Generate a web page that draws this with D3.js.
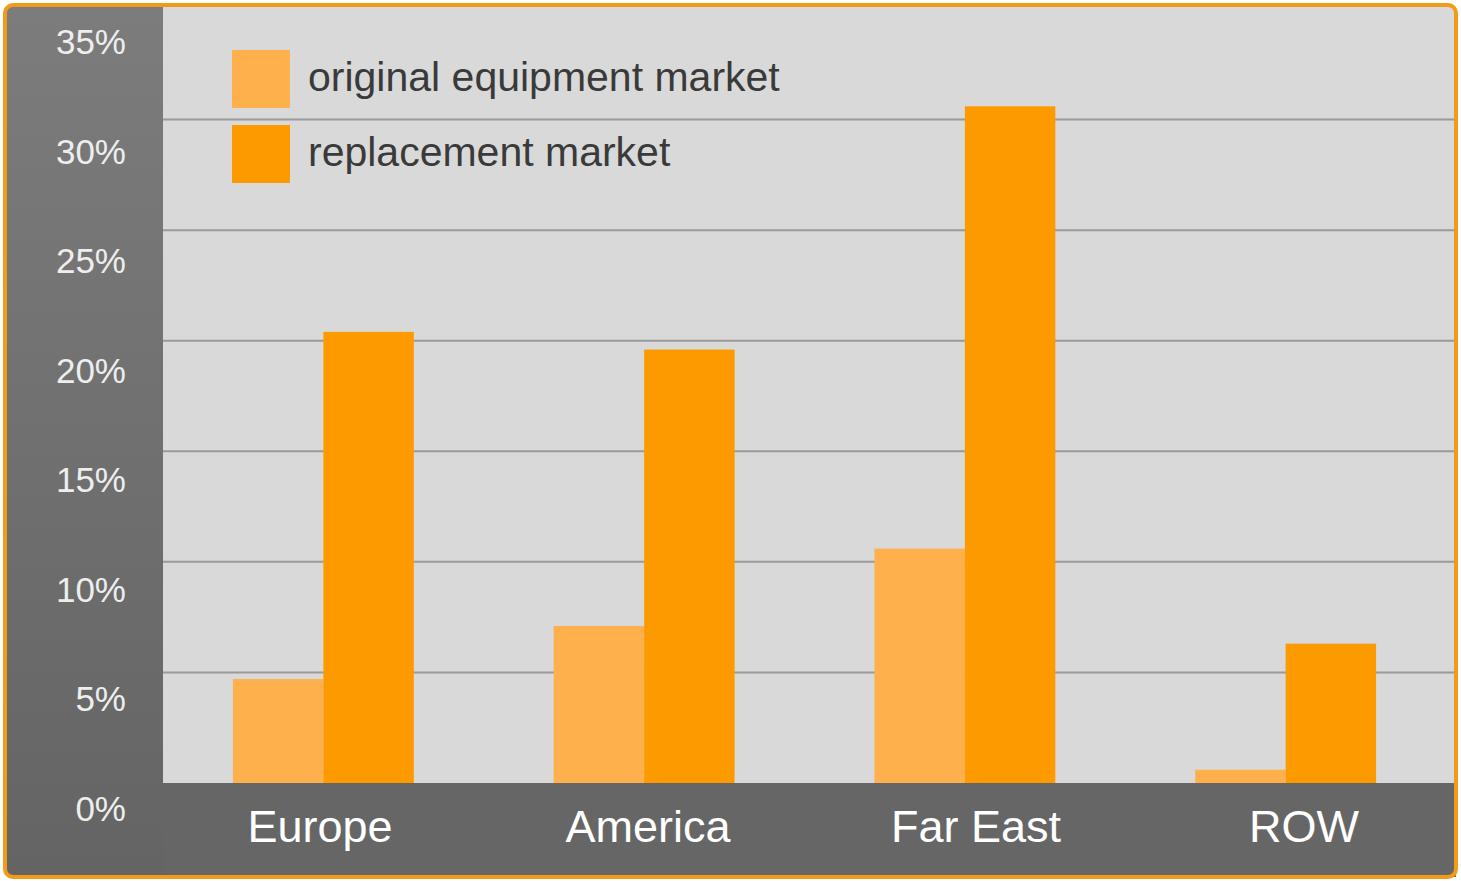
<!DOCTYPE html>
<html><head><meta charset="utf-8">
<script src="https://cdn.jsdelivr.net/npm/d3@7"></script>
<style>html,body{margin:0;padding:0;background:#fff;}svg{display:block;}</style>
</head><body><svg id="c" width="1461" height="881"></svg>
<script>
const categories = ["Europe", "America", "Far East", "ROW"];
const seriesNames = ["original equipment market", "replacement market"];
const originalEquipment = [4.7, 7.1, 10.6, 0.6];
const replacement = [20.4, 19.6, 30.6, 6.3];
const yTicks = [0, 5, 10, 15, 20, 25, 30, 35];
const yTickLabels = ["0%", "5%", "10%", "15%", "20%", "25%", "30%", "35%"];
const colors = ["#fdb04c", "#fd9a00"];

const svg = d3.select("#c");
const W = 1461, H = 881;
const plot = {x0: 163, x1: 1456, y0: 9, y1: 783};

const defs = svg.append("defs");
const g1 = defs.append("linearGradient").attr("id", "lp").attr("x1", 0).attr("y1", 0).attr("x2", 0).attr("y2", 1);
g1.append("stop").attr("offset", "0%").attr("stop-color", "#7c7c7c");
g1.append("stop").attr("offset", "100%").attr("stop-color", "#646464");

// frame background
svg.append("rect").attr("x", 5).attr("y", 5).attr("width", W - 10).attr("height", H - 9).attr("rx", 8)
  .attr("fill", "#666");
svg.append("rect").attr("x", 7).attr("y", 7).attr("width", plot.x0 - 7).attr("height", H - 12).attr("fill", "url(#lp)");
svg.append("rect").attr("x", plot.x0).attr("y", plot.y0 - 2).attr("width", plot.x1 - plot.x0).attr("height", plot.y1 - plot.y0 + 2).attr("fill", "#d9d9d9");
svg.append("rect").attr("x", plot.x0).attr("y", plot.y1).attr("width", plot.x1 - plot.x0).attr("height", H - 4 - plot.y1).attr("fill", "#666");

const y = d3.scaleLinear().domain([0, 35]).range([plot.y1, plot.y0]);
const yLabel = d3.scaleLinear().domain([0, 35]).range([821, 54]);
const x0 = d3.scaleBand().domain(categories).range([plot.x0, 1446]).paddingInner(0.436).paddingOuter(0.218);
const x1 = d3.scaleBand().domain(seriesNames).range([0, x0.bandwidth()]);
const xLabel = d3.scalePoint().domain(categories).range([320, 1304]);

// gridlines
svg.append("g").selectAll("line").data(yTicks.filter(t => t > 0 && t < 35)).join("line")
  .attr("x1", plot.x0).attr("x2", plot.x1)
  .attr("y1", d => y(d)).attr("y2", d => y(d))
  .attr("stroke", "#9a9a9a").attr("stroke-width", 2);

// y tick labels
svg.append("g").selectAll("text").data(yTicks).join("text")
  .attr("x", 126).attr("y", d => yLabel(d))
  .attr("text-anchor", "end")
  .attr("font-family", "'Liberation Sans', Arial, sans-serif")
  .attr("font-size", 35).attr("fill", "#eeeeee")
  .text((d, i) => yTickLabels[i]);

// bars
const groups = svg.append("g").selectAll("g").data(categories).join("g")
  .attr("transform", d => `translate(${x0(d)},0)`);
groups.selectAll("rect").data((d, i) => [
    {s: seriesNames[0], v: originalEquipment[i], c: colors[0]},
    {s: seriesNames[1], v: replacement[i], c: colors[1]}])
  .join("rect")
  .attr("x", d => x1(d.s)).attr("width", x1.bandwidth())
  .attr("y", d => y(d.v)).attr("height", d => y(0) - y(d.v))
  .attr("fill", d => d.c);

// category labels
svg.append("g").selectAll("text").data(categories).join("text")
  .attr("x", d => xLabel(d)).attr("y", 842)
  .attr("text-anchor", "middle")
  .attr("font-family", "'Liberation Sans', Arial, sans-serif")
  .attr("font-size", 45).attr("fill", "#fff")
  .text(d => d);

// legend
const leg = svg.append("g").selectAll("g").data(seriesNames).join("g")
  .attr("transform", (d, i) => `translate(232,${50 + i * 75})`);
leg.append("rect").attr("width", 58).attr("height", 58).attr("fill", (d, i) => colors[i]);
leg.append("text").attr("x", 76).attr("y", 41)
  .attr("font-family", "'Liberation Sans', Arial, sans-serif")
  .attr("font-size", 41).attr("fill", "#3a3a3a")
  .text(d => d);

// orange border
svg.append("rect").attr("x", 5).attr("y", 5).attr("width", W - 10).attr("height", H - 9).attr("rx", 8)
  .attr("fill", "none").attr("stroke", "#f39a17").attr("stroke-width", 4);
</script></body></html>
